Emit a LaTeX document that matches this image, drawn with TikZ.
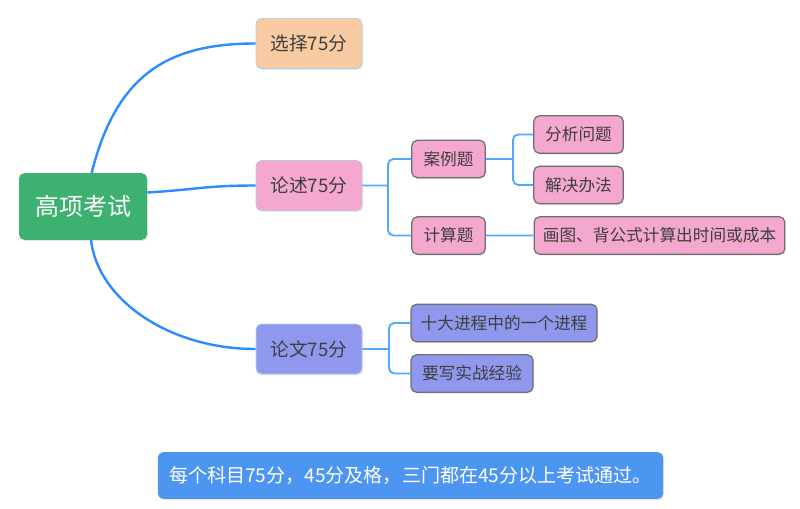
\documentclass[tikz,border=0pt]{standalone}
\usepackage{fontspec}
\setmainfont{Noto Sans CJK SC}
\usepackage{tikz}
\usetikzlibrary{shadows}
\definecolor{rootgreen}{HTML}{3CB170}
\definecolor{choiceorange}{HTML}{F8CBA2}
\definecolor{casepink}{HTML}{F4A8CF}
\definecolor{essayblue}{HTML}{9098EE}
\definecolor{notebar}{HTML}{4C95F0}
\definecolor{linkblue}{HTML}{2B8CFF}
\definecolor{twigblue}{HTML}{52A8FF}
\definecolor{rimgray}{HTML}{6E6E6E}
\definecolor{rimblue}{HTML}{B6CCE4}
\definecolor{inkgray}{HTML}{3E3E3E}

\begin{document}
\begin{tikzpicture}[x=0.75pt,y=-0.75pt,
  box/.style={rounded corners=4pt,inner sep=0pt,align=center,text=inkgray,
    drop shadow={opacity=0.18,shadow xshift=0.8pt,shadow yshift=-1pt}},
  topbox/.style={box,draw=rimblue,line width=0.6pt,minimum height=37.5pt,
    minimum width=79.5pt,font={\fontsize{14}{16}\selectfont}},
  leafbox/.style={box,draw=rimgray,line width=0.9pt,minimum height=28pt,
    font={\fontsize{12.5}{14}\selectfont}},
  link/.style={draw=linkblue,line width=1.8pt},
  twig/.style={draw=twigblue,line width=1.4pt,rounded corners=4pt}]
  \useasboundingbox (0,0) rectangle (800,508);

  % Root
  \node[box,fill=rootgreen,text=white,minimum width=96pt,minimum height=50pt,
    font={\fontsize{18}{20}\selectfont}] (gx) at (83,206.5) {高项考试};

  % Level one
  \node[topbox,fill=choiceorange] (xz) at (309,43.5) {选择75分};
  \node[topbox,fill=casepink] (lw) at (309,185.5) {论述75分};
  \node[topbox,fill=essayblue] (lunwen) at (309,349) {论文75分};

  \draw[link] ([xshift=6.5pt]gx.north) .. controls +(25,-100) and +(-86,0) .. (xz.west);
  \draw[link] ([yshift=10.5pt]gx.east) .. controls +(50,-3) and +(-50,0) .. (lw.west);
  \draw[link] ([xshift=6pt]gx.south) .. controls +(7,60) and +(-86,0) .. (lunwen.west);

  % Essay questions
  \node[leafbox,fill=casepink,minimum width=55pt] (al) at (448.5,159) {案例题};
  \node[leafbox,fill=casepink,minimum width=55pt] (js) at (448.5,235.5) {计算题};
  \node[leafbox,fill=casepink,minimum width=67pt] (fx) at (578.5,134.5) {分析问题};
  \node[leafbox,fill=casepink,minimum width=67pt] (jj) at (578.5,185) {解决办法};
  \node[leafbox,fill=casepink,minimum width=188pt] (ht) at (659.5,235.5)
    {画图、背公式计算出时间或成本};
  \coordinate (lwj) at (388,185.5);
  \coordinate (alj) at (513,159);
  \draw[twig] (al.west) -| (lwj) |- (js.west) (lw.east) -- (lwj)
    (js.east) -- (ht.west);
  \draw[twig] (fx.west) -| (alj) |- (jj.west) (al.east) -- (alj);

  % Paper
  \node[leafbox,fill=essayblue,minimum width=139.5pt] (sd) at (504,323) {十大进程中的一个进程};
  \node[leafbox,fill=essayblue,minimum width=91.5pt] (yx) at (472,373.5) {要写实战经验};
  \coordinate (lunwenj) at (389,349);
  \draw[twig] (sd.west) -| (lunwenj) |- (yx.west) (lunwen.east) -- (lunwenj);

  % Note
  \node[box,fill=notebar,text=white,minimum width=379pt,minimum height=35pt,
    font={\fontsize{14.3}{16}\selectfont}] (note) at (410.5,475.5)
    {每个科目75分，45分及格，三门都在45分以上考试通过。};
\end{tikzpicture}
\end{document}
